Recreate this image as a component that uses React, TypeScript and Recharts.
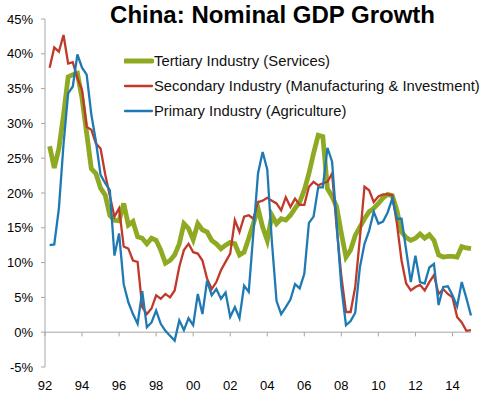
import {
  Legend,
  Line,
  LineChart,
  ReferenceLine,
  XAxis,
  YAxis,
} from "recharts";

// quarterly observations, first one at 1992.25, last at 2015.0
const START = 1992.25;

const tertiary = [
  26.7, 23.6, 26.4, 31.2, 36.7, 37.0, 37.2, 33.6, 28.6, 23.5,
  22.8, 20.7, 19.7, 16.8, 16.1, 16.0, 18.5, 15.4, 15.9, 13.7,
  13.5, 12.7, 13.5, 13.2, 11.8, 9.9, 10.3, 11.1, 12.7, 15.6,
  14.9, 13.3, 15.6, 14.7, 14.4, 13.2, 12.7, 12.0, 12.5, 12.9,
  12.7, 11.1, 11.5, 13.5, 15.6, 17.8, 15.1, 13.2, 16.8, 15.6,
  16.3, 16.1, 16.8, 17.8, 18.7, 20.4, 22.8, 25.7, 28.3, 28.1,
  20.6, 19.5, 18.0, 14.2, 10.8, 11.8, 13.9, 15.1, 16.3, 17.3,
  17.8, 18.5, 19.3, 19.8, 19.6, 17.5, 14.4, 13.6, 13.2, 13.5,
  14.1, 13.5, 14.0, 13.2, 11.1, 10.8, 10.9, 10.9, 10.8, 12.3,
  12.1, 12.0,
];

const secondary = [
  38.0, 40.9, 40.3, 42.7, 38.6, 38.8, 36.5, 34.8, 29.5, 29.1,
  27.1, 26.4, 22.7, 19.6, 16.6, 17.8, 12.3, 12.0, 10.3, 10.1,
  3.6, 2.6, 3.4, 5.3, 4.8, 5.5, 5.0, 6.0, 9.4, 11.8,
  12.7, 11.5, 11.3, 10.3, 7.7, 6.2, 7.2, 8.9, 10.1, 11.3,
  16.1, 14.4, 16.6, 16.8, 16.3, 18.7, 18.9, 19.3, 18.9, 18.5,
  17.5, 19.4, 18.0, 19.2, 18.3, 18.3, 20.9, 21.6, 21.1, 21.4,
  21.6, 22.8, 15.0, 8.0, 2.9, 2.9, 6.5, 13.5, 20.9, 20.4,
  18.7, 19.5, 19.8, 19.8, 19.7, 15.6, 10.3, 7.0, 6.0, 6.5,
  6.8, 6.0, 7.2, 8.2, 5.5, 6.2, 5.5, 5.0, 2.2, 1.4,
  0.2, 0.3,
];

const primary = [
  12.5, 12.6, 17.8, 27.0, 34.3, 35.3, 39.9, 38.0, 37.0, 31.3,
  27.4, 22.6, 21.4, 20.4, 11.0, 14.2, 6.9, 4.3, 2.6, 1.2,
  5.9, 0.7, 1.4, 3.1, 1.2, 0.2, -0.5, -1.2, 1.7, 0.3,
  2.0, 1.0, 5.5, 2.6, 7.4, 5.3, 6.2, 4.8, 5.7, 2.2,
  3.6, 2.0, 6.7, 5.8, 14.2, 22.8, 25.9, 23.4, 13.0, 4.5,
  2.6, 3.6, 4.7, 6.9, 6.3, 8.4, 15.7, 16.6, 20.8, 20.8,
  26.5, 24.5, 15.5, 6.5, 1.0, 1.6, 2.8, 9.3, 12.7, 14.6,
  17.3, 15.6, 15.9, 17.2, 19.2, 16.3, 16.3, 11.8, 7.2, 11.0,
  7.2, 7.0, 9.3, 9.8, 3.9, 6.5, 6.6, 5.3, 3.7, 7.2,
  4.9, 2.4,
];

const xTicks = [1992, 1994, 1996, 1998, 2000, 2002, 2004, 2006, 2008, 2010, 2012, 2014];
const yTicks = [-5, 0, 5, 10, 15, 20, 25, 30, 35, 40, 45];

const series = [
  { key: "tertiary", name: "Tertiary Industry (Services)", color: "#8DAA22", width: 4.8 },
  { key: "secondary", name: "Secondary Industry (Manufacturing & Investment)", color: "#C0392B", width: 2.3 },
  { key: "primary", name: "Primary Industry (Agriculture)", color: "#1F7AB4", width: 2.3 },
];

const data = tertiary.map((t, i) => ({
  q: START + i * 0.25,
  tertiary: t,
  secondary: secondary[i],
  primary: primary[i],
}));

const FONT = "'Liberation Sans', Arial, sans-serif";
const AXIS = "#A6A6A6";

function LegendBox() {
  return (
    <div style={{ fontFamily: FONT, fontSize: 14.8, color: "#111" }}>
      {series.map((s) => (
        <div key={s.key} style={{ display: "flex", alignItems: "center", height: 25 }}>
          <svg width={30} height={10}>
            <line x1={1} x2={28} y1={5} y2={5} stroke={s.color} strokeWidth={s.width} strokeLinecap="round" />
          </svg>
          <span style={{ whiteSpace: "nowrap" }}>{s.name}</span>
        </div>
      ))}
    </div>
  );
}

export default function App() {
  return (
    <div style={{ position: "absolute", left: 0, top: 0, width: 491, height: 398, background: "#fff" }}>
      <div
        style={{
          position: "absolute",
          left: 0,
          width: 545,
          top: 1,
          textAlign: "center",
          fontFamily: FONT,
          fontWeight: "bold",
          fontSize: 24,
          color: "#000",
          zIndex: 2,
        }}
      >
        China: Nominal GDP Growth
      </div>
      <LineChart width={491} height={398} data={data} margin={{ top: 19, right: 20, left: 0, bottom: 0 }}>
        <XAxis
          dataKey="q"
          type="number"
          domain={[1992, 2015]}
          ticks={xTicks}
          tickFormatter={(v: number) => String(v % 100).padStart(2, "0")}
          axisLine={false}
          tickLine={false}
          height={31}
          tickMargin={8}
          tick={{ fontSize: 13, fill: "#000", fontFamily: FONT }}
        />
        <YAxis
          domain={[-5, 45]}
          ticks={yTicks}
          width={45}
          tickFormatter={(v: number) => `${v}%`}
          axisLine={{ stroke: AXIS }}
          tickLine={{ stroke: AXIS }}
          tickSize={4}
          tickMargin={8}
          tick={{ fontSize: 13, fill: "#000", fontFamily: FONT }}
        />
        <ReferenceLine y={0} stroke={AXIS} />
        {xTicks.map((t) => (
          <ReferenceLine key={t} segment={[{ x: t, y: 0 }, { x: t, y: -0.6 }]} stroke={AXIS} />
        ))}
        {series.map((s) => (
          <Line
            key={s.key}
            dataKey={s.key}
            name={s.name}
            stroke={s.color}
            strokeWidth={s.width}
            dot={false}
            type="linear"
            isAnimationActive={false}
          />
        ))}
        <Legend
          layout="vertical"
          align="center"
          verticalAlign="middle"
          content={() => <LegendBox />}
          wrapperStyle={{ left: 124, top: 48, width: 370 }}
        />
      </LineChart>
    </div>
  );
}
